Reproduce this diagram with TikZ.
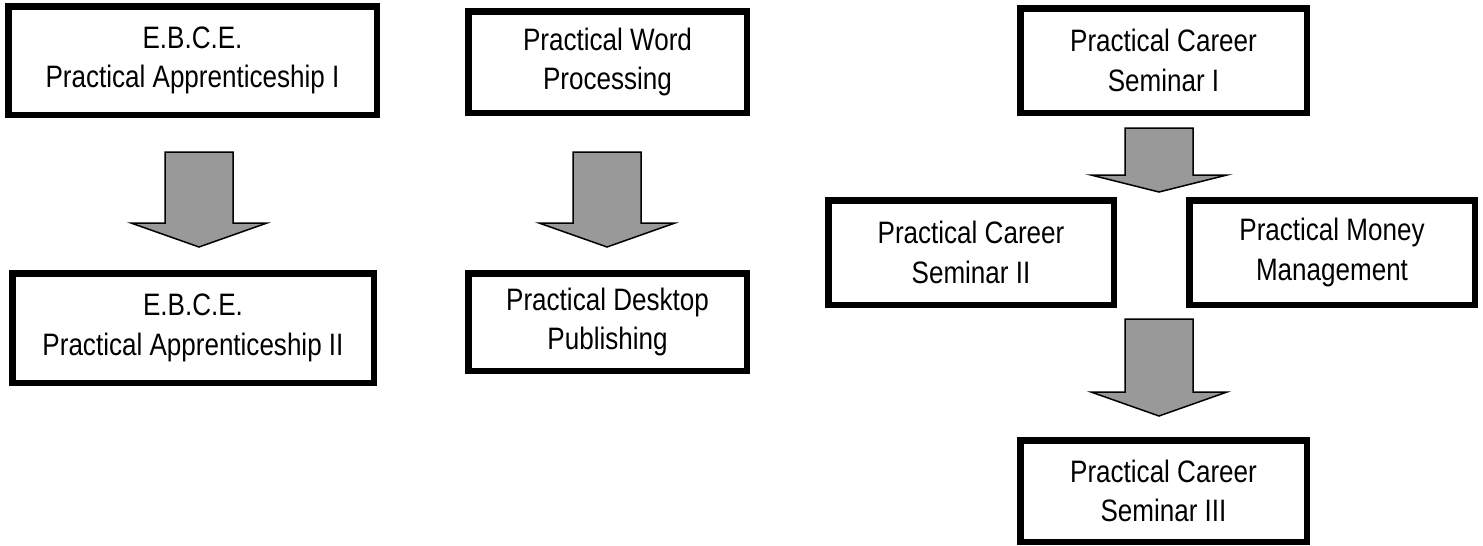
\documentclass[tikz,border=0pt]{standalone}
\usepackage{fontspec}
\setmainfont{Liberation Sans}[FakeStretch=0.84]
\definecolor{arrowgray}{RGB}{153,153,153}
\tikzset{
  box/.style={draw=black, line width=6.5pt, fill=white, align=center, inner sep=0pt,
    font=\fontsize{31pt}{39.5pt}\selectfont},
  blockarrow/.style={draw=black, line width=1.5pt, fill=arrowgray, line join=miter}
}
\newcommand\downblock[4]{%
  \draw[blockarrow] (#1-34,#2) -- (#1+34,#2) -- (#1+34,#3) -- (#1+68,#3) -- (#1,#4)
    -- (#1-68,#3) -- (#1-34,#3) -- cycle;}
\begin{document}
\begin{tikzpicture}[x=1pt,y=-1pt]
\useasboundingbox (0,0) rectangle (1483,546);
% boxes
\node[box, minimum width=368.5pt, minimum height=108.5pt] (ebcea) at (192.5,60.5) {E.B.C.E.\\Practical Apprenticeship I};
\node[box, minimum width=361.5pt, minimum height=109.5pt] (ebceb) at (193,328) {E.B.C.E.\\Practical Apprenticeship II};
\node[box, minimum width=278.5pt, minimum height=101.5pt] (wp) at (607.5,62) {Practical Word\\Processing};
\node[box, minimum width=278.5pt, minimum height=97.5pt] (dtp) at (607.5,322) {Practical Desktop\\Publishing};
\node[box, minimum width=286.5pt, minimum height=104.5pt] (c1) at (1163.5,60.5) {Practical Career\\Seminar I};
\node[box, minimum width=285.5pt, minimum height=104.5pt] (c2) at (971,252.5) {Practical Career\\Seminar II};
\node[box, minimum width=285.5pt, minimum height=104.5pt] (mm) at (1332,252.5) {Practical Money\\Management};
\node[box, minimum width=286.5pt, minimum height=101.5pt] (c3) at (1163.5,491) {Practical Career\\Seminar III};
% block arrows
\downblock{199}{152}{223}{247}
\downblock{607}{152}{223}{247}
\downblock{1159}{128}{175}{192}
\downblock{1159}{319}{392}{416}
\end{tikzpicture}
\end{document}
